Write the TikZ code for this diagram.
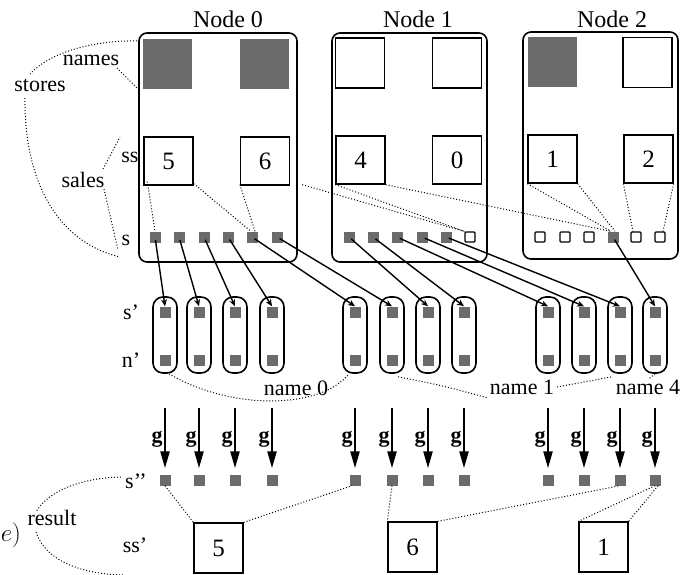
\documentclass[tikz,border=0pt]{standalone}
\usepackage{fontspec}
\setmainfont{Liberation Serif}
\usetikzlibrary{arrows.meta}
\begin{document}
\begin{tikzpicture}[x=1pt,y=-1pt,
  nodebox/.style={draw,rounded corners=8pt,line width=1.6pt,inner sep=0pt},
  title/.style={font=\fontsize{24}{24}\selectfont,inner sep=0pt},
  lbl/.style={font=\fontsize{22}{22}\selectfont,inner sep=0pt},
  glbl/.style={font=\fontsize{22}{22}\selectfont\bfseries,inner sep=0pt},
  bigsq/.style={minimum width=49pt,minimum height=50pt,inner sep=0pt},
  hatch/.style={fill=black!58},
  emptysq/.style={draw,line width=1.3pt},
  valbox/.style={draw,line width=1.3pt,minimum width=49pt,minimum height=48pt,inner sep=0pt,font=\fontsize{25}{25}\selectfont},
  ssq/.style={fill=black!58,minimum size=11pt,inner sep=0pt},
  esq/.style={draw,line width=1.2pt,minimum size=10pt,inner sep=0pt,rounded corners=1pt},
  capsule/.style={draw,line width=1.6pt,rounded corners=10pt,minimum width=24pt,minimum height=76pt,inner sep=0pt},
  dot/.style={line width=1pt,dash pattern=on 1pt off 2pt},
  ptr/.style={-{Stealth[length=7pt,width=6pt]},line width=1.4pt,shorten <=3pt},
  garrow/.style={-{Triangle[length=17pt,width=9pt]},line width=2.3pt,shorten >=6pt}
]
\useasboundingbox (0,0) rectangle (690,575);

% node boxes and titles
\node[nodebox,minimum width=158pt,minimum height=229pt] (N0) at (218,147.5) {};
\node[nodebox,minimum width=155pt,minimum height=229pt] (N1) at (409.5,147.5) {};
\node[nodebox,minimum width=155pt,minimum height=227pt] (N2) at (600.5,145.5) {};
\node[title,anchor=base] (T0) at (228,28) {Node 0};
\node[title,anchor=base] (T1) at (418,28) {Node 1};
\node[title,anchor=base] (T2) at (612,28) {Node 2};

% names squares
\node[bigsq,hatch] (n0a) at (167.5,64.5) {};
\node[bigsq,hatch] (n0b) at (264,64.5) {};
\node[bigsq,emptysq] (n1a) at (360,63) {};
\node[bigsq,emptysq] (n1b) at (457,63) {};
\node[bigsq,hatch] (n2a) at (552,62.5) {};
\node[bigsq,emptysq] (n2b) at (647.5,62.5) {};

% sales boxes
\node[valbox] (v0a) at (168.5,161) {5};
\node[valbox] (v0b) at (265,161) {6};
\node[valbox] (v1a) at (360.5,160) {4};
\node[valbox] (v1b) at (457,160) {0};
\node[valbox] (v2a) at (552.5,159) {1};
\node[valbox] (v2b) at (648.5,159) {2};

% s rows
\foreach \x [count=\i] in {155,179,204,228,252,277} \node[ssq] (sa\i) at (\x,237) {};
\foreach \x [count=\i] in {349,373,397,422,446} \node[ssq] (sb\i) at (\x,237) {};
\node[esq] (sb6) at (470,237) {};
\node[esq] (sc1) at (540,237) {};
\node[esq] (sc2) at (565,237) {};
\node[esq] (sc3) at (589,237) {};
\node[ssq] (sc4) at (613,237) {};
\node[esq] (sc5) at (636,237) {};
\node[esq] (sc6) at (660,237) {};

% capsules, g arrows, s'' squares
\foreach \x [count=\i] in {165,199,235,272,355,392,428,464,548,584,620,655} {
  \node[capsule] (c\i) at (\x,335) {};
  \node[ssq] (sp\i) at (\x,312) {};
  \node[ssq] (np\i) at (\x,360) {};
  \coordinate (gt\i) at (\x,408);
  \node[ssq] (spp\i) at (\x,480) {};
  \draw[garrow] (gt\i) -- (spp\i.north);
  \node[glbl] (g\i) at ({\x-8},439) {g};
}

% result boxes
\node[valbox,minimum height=50pt] (r0) at (218.5,548) {5};
\node[valbox,minimum height=50pt] (r1) at (412.5,547) {6};
\node[valbox,minimum height=50pt] (r2) at (603.5,547) {1};

% pointer arrows s -> s'
\foreach \a/\b in {sa1/1,sa2/2,sa3/3,sa4/4,sa5/5,sa6/6,sb1/7,sb2/8,sb3/9,sb4/10,sb5/11,sc4/12}
  \draw[ptr] (\a.center) -- (sp\b.north);

% labels
\node[lbl] (Lnames) at (91,60) {names};
\node[lbl] (Lstores) at (40,85) {stores};
\node[lbl] (Lss) at (130,157) {ss};
\node[lbl] (Lsales) at (83,180) {sales};
\node[lbl] (Ls) at (126,240) {s};
\node[lbl] (Lsp) at (131,312) {s’};
\node[lbl] (Lnp) at (131,360) {n’};
\node[lbl] (Lname0) at (296,388) {name 0};
\node[lbl] (Lname1) at (522,387) {name 1};
\node[lbl] (Lname4) at (648,387) {name 4};
\node[lbl] (Lspp) at (136,481) {s’’};
\node[lbl] (Lssp) at (135,545) {ss’};
\node[lbl] (Lresult) at (52,518) {result};
\node[font=\fontsize{26}{26}\selectfont,inner sep=0pt] (Le) at (11,535) {$e\Big)$};

% dotted brackets (top left)
\coordinate (st1) at (137,41);
\coordinate (st2) at (30,74);
\coordinate (st3) at (25,98);
\coordinate (st4) at (120,257);
\draw[dot] (st1) .. controls (95,40) and (50,52) .. (st2);
\draw[dot] (st3) .. controls (24,170) and (50,240) .. (st4);
\coordinate (nm1) at (117,68);
\coordinate (nm2) at (137,88);
\draw[dot] (nm1) -- (nm2);
\coordinate (sl1) at (103,169);
\coordinate (sl2) at (120,137);
\coordinate (sl3) at (104,189);
\coordinate (sl4) at (118,250);
\draw[dot] (sl1) -- (sl2);
\draw[dot] (sl3) -- (sl4);

% dotted sales -> s
\draw[dot] ([xshift=4pt,yshift=4pt]v0a.south west) -- (sa1.north);
\draw[dot] ([yshift=2pt]v0a.south east) -- ([xshift=-1pt]sa5.north);
\draw[dot] ([yshift=1pt]v0b.south west) -- ([xshift=3pt]sa5.north);
\draw[dot] ([xshift=12pt,yshift=1pt]v0b.south east) -- (sb6.north west);
\draw[dot] (v1a.south west) -- (sb6.north west);
\draw[dot] (v1a.south east) -- ([xshift=-2pt]sc4.north);
\draw[dot] (v2a.south west) -- ([xshift=-2pt]sc4.north);
\draw[dot] (v2a.south east) -- ([xshift=2pt]sc4.north);
\draw[dot] (v2b.south west) -- ([xshift=-3pt]sc5.north);
\draw[dot] (v2b.south east) -- ([xshift=3pt]sc6.north);

% name brackets
\draw[dot] ([xshift=4pt]c1.south) .. controls (230,410) and (320,410) .. ([xshift=-6pt]c5.south);
\coordinate (nb1) at (488,398);
\coordinate (nb2) at (557,387);
\draw[dot] ([xshift=6pt,yshift=-3pt]c6.south) .. controls (440,385) .. (nb1);
\draw[dot] (nb2) -- ([xshift=-8pt,yshift=-3pt]c11.south);
\draw[dot] (c12.south) -- (Lname4.north);

% result bracket
\coordinate (rs1) at (121,477);
\coordinate (rs2) at (36,512);
\coordinate (rs3) at (36,532);
\coordinate (rs4) at (123,575);
\draw[dot] (rs1) .. controls (75,478) and (45,495) .. (rs2);
\draw[dot] (rs3) .. controls (45,560) and (80,574) .. (rs4);

% dotted s'' -> result boxes
\draw[dot] (spp1.south) -- (r0.north west);
\draw[dot] (r0.north east) -- ([xshift=-3pt]spp5.south);
\draw[dot] (spp6.south) -- (r1.north west);
\draw[dot] (r1.north east) -- (spp11.south);
\draw[dot] (spp12.south) -- (r2.north west);
\draw[dot] ([xshift=3pt]spp12.south) -- (r2.north east);
\end{tikzpicture}
\end{document}
